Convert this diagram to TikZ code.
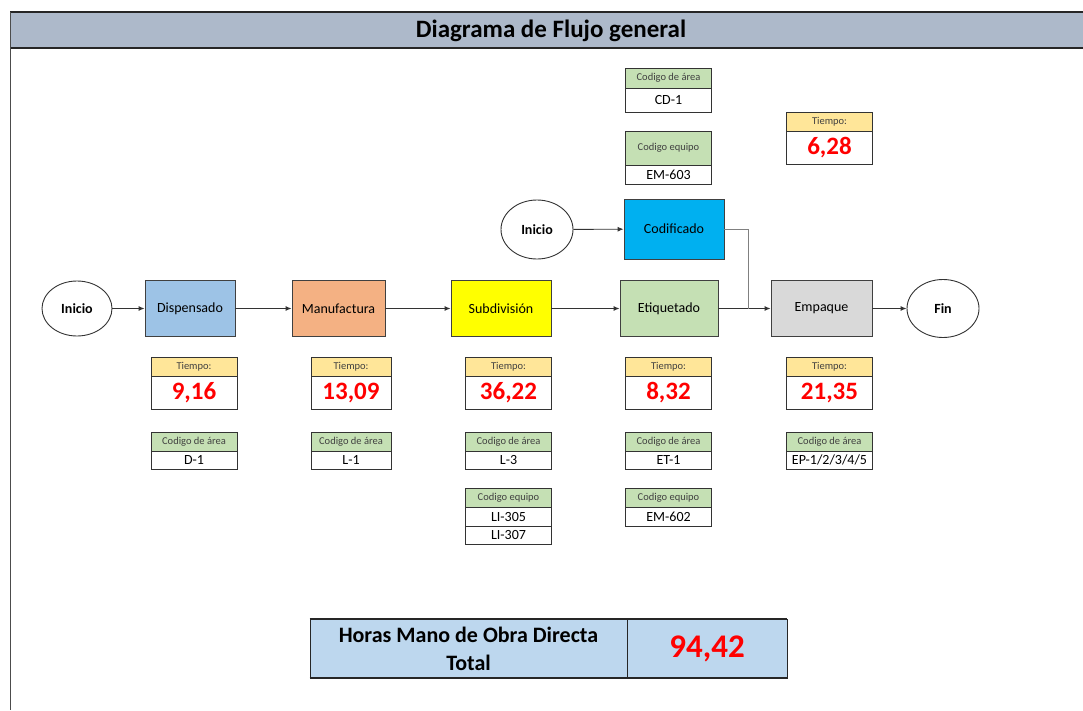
\documentclass[tikz,border=0pt]{standalone}
\usepackage{fontspec}
\setmainfont{Carlito}
\usetikzlibrary{shapes.geometric,arrows.meta}
\definecolor{bandblue}{HTML}{ADB9CA}
\definecolor{dispblue}{HTML}{9DC3E6}
\definecolor{manuorange}{HTML}{F4B183}
\definecolor{subdyellow}{HTML}{FFFF00}
\definecolor{etqgreen}{HTML}{C5E0B4}
\definecolor{empgray}{HTML}{D9D9D9}
\definecolor{codcyan}{HTML}{00B0F0}
\definecolor{timeyellow}{HTML}{FFE699}
\definecolor{codegreen}{HTML}{C5E0B4}
\definecolor{totalblue}{HTML}{BDD7EE}
\definecolor{valred}{HTML}{FF0000}
\newcommand{\fsz}[1]{\fontsize{#1}{#1}\selectfont}
\begin{document}
\begin{tikzpicture}[x=1pt,y=-1pt,
  proc/.style={draw=black!75, line width=0.9pt, rectangle, inner sep=0pt, font=\fsz{14}},
  term/.style={draw=black!80, line width=0.9pt, ellipse, inner sep=0pt, fill=white, font=\bfseries\fsz{14}},
  flow/.style={draw=black!80, line width=0.9pt, -{Latex[length=6pt,width=5pt]}},
  feed/.style={draw=black!50, line width=1pt},
  cell/.style={draw=black!80, line width=0.9pt, rectangle, inner sep=0pt, fill=white, font=\fsz{14}},
  thead/.style={cell, fill=timeyellow, text=black!75, font=\fsz{10.5}},
  chead/.style={cell, fill=codegreen, text=black!75, font=\fsz{10.5}},
  tval/.style={cell, text=valred, font=\bfseries\fsz{25}},
  wA/.style={minimum width=86pt},
  wB/.style={minimum width=80pt},
  hS/.style={minimum height=19pt},
  hV/.style={minimum height=33pt}]
\useasboundingbox (0,0) rectangle (1083,710);

% page frame and title band
\fill[bandblue] (10,12) rectangle (1083,48);
\draw[black!85, line width=2pt] (10,12) -- (1083,12);
\draw[black!85, line width=2pt] (10,48) -- (1083,48);
\draw[black!70, line width=0.8pt] (10,12) -- (10,710);
\node[font=\bfseries\fsz{25}] (title) at (551,31) {Diagrama de Flujo general};

% main process line
\node[term, minimum width=70pt, minimum height=55pt] (ini) at (77,308.5) {Inicio};
\node[proc, fill=dispblue, minimum width=90pt, minimum height=56pt] (disp) at (190,308.5) {Dispensado};
\node[proc, fill=manuorange, minimum width=93pt, minimum height=56pt] (manu) at (338.5,308.5) {Manufactura};
\node[proc, fill=subdyellow, minimum width=100pt, minimum height=56pt] (subd) at (501,308.5) {Subdivisión};
\node[proc, fill=etqgreen, minimum width=98pt, minimum height=56pt] (etq) at (669,308.5) {Etiquetado};
\node[proc, fill=empgray, minimum width=101pt, minimum height=56pt] (emp) at (821.5,308.5) {Empaque};
\node[term, minimum width=72pt, minimum height=58pt] (fin) at (943,308.5) {Fin};

% coding branch
\node[term, minimum width=72pt, minimum height=59pt] (ini2) at (537,229.5) {Inicio};
\node[proc, fill=codcyan, minimum width=100pt, minimum height=60pt] (cod) at (674,229) {Codificado};
\coordinate (join) at (748,308.5);

\draw[flow] (ini) -- (disp);
\draw[flow] (disp) -- (manu);
\draw[flow] (manu) -- (subd);
\draw[flow] (subd) -- (etq);
\draw[flow] (etq) -- (emp);
\draw[flow] (emp) -- (fin);
\draw[flow] (ini2) -- (cod);
\draw[feed] (cod.east) -| (join);

% times
\node[thead, wA, hS] (t1h) at (194,366.5) {Tiempo:};
\node[tval, wA, hV] (t1v) at (194,392.5) {9,16};
\node[thead, wB, hS] (t2h) at (351,366.5) {Tiempo:};
\node[tval, wB, hV] (t2v) at (351,392.5) {13,09};
\node[thead, wA, hS] (t3h) at (508.5,366.5) {Tiempo:};
\node[tval, wA, hV] (t3v) at (508.5,392.5) {36,22};
\node[thead, wA, hS] (t4h) at (668.5,366.5) {Tiempo:};
\node[tval, wA, hV] (t4v) at (668.5,392.5) {8,32};
\node[thead, wA, hS] (t5h) at (829.5,366.5) {Tiempo:};
\node[tval, wA, hV] (t5v) at (829.5,392.5) {21,35};
\node[thead, wA, hS] (t6h) at (829.5,121.5) {Tiempo:};
\node[tval, wA, hV] (t6v) at (829.5,147.5) {6,28};

% area codes
\node[chead, wA, hS] (a1h) at (194,441.5) {Codigo de área};
\node[cell, wA, minimum height=18pt] (a1v) at (194,460) {D-1};
\node[chead, wB, hS] (a2h) at (351,441.5) {Codigo de área};
\node[cell, wB, minimum height=18pt] (a2v) at (351,460) {L-1};
\node[chead, wA, hS] (a3h) at (508.5,441.5) {Codigo de área};
\node[cell, wA, minimum height=18pt] (a3v) at (508.5,460) {L-3};
\node[chead, wA, hS] (a4h) at (668.5,441.5) {Codigo de área};
\node[cell, wA, minimum height=18pt] (a4v) at (668.5,460) {ET-1};
\node[chead, wA, hS] (a5h) at (829.5,441.5) {Codigo de área};
\node[cell, wA, minimum height=18pt] (a5v) at (829.5,460) {EP-1/2/3/4/5};
\node[chead, wA, minimum height=20pt] (a6h) at (668.5,78) {Codigo de área};
\node[cell, wA, minimum height=24pt] (a6v) at (668.5,100) {CD-1};

% equipment codes
\node[chead, wA, hS] (e3h) at (508.5,497.5) {Codigo equipo};
\node[cell, wA, hS] (e3a) at (508.5,516.5) {LI-305};
\node[cell, wA, minimum height=18pt] (e3b) at (508.5,535) {LI-307};
\node[chead, wA, hS] (e4h) at (668.5,497.5) {Codigo equipo};
\node[cell, wA, hS] (e4v) at (668.5,516.5) {EM-602};
\node[chead, wA, minimum height=34pt] (e6h) at (668.5,148) {Codigo equipo};
\node[cell, wA, hS] (e6v) at (668.5,174.5) {EM-603};

% total labour hours
\node[draw=black!85, line width=0.9pt, fill=totalblue, minimum width=317pt, minimum height=59pt,
      inner sep=0pt, align=center, font=\bfseries\fontsize{22}{28}\selectfont] (totl) at (468.5,648.5)
      {Horas Mano de Obra Directa\\Total};
\node[draw=black!85, line width=0.9pt, fill=totalblue, minimum width=160pt, minimum height=59pt,
      inner sep=0pt, text=valred, font=\bfseries\fsz{33}] (totv) at (707,648.5) {94,42};
\draw[black!85, line width=2pt] (totl.north west) -- (totv.north east);
\draw[black!85, line width=2pt] (totl.south west) -- (totv.south east);
\end{tikzpicture}
\end{document}
